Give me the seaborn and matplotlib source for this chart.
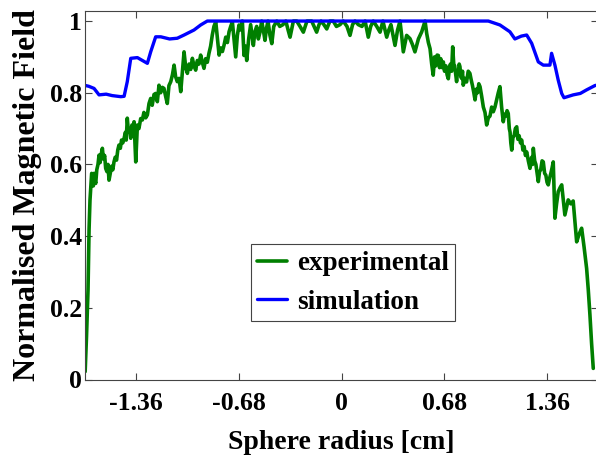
import matplotlib
matplotlib.use("Agg")
import matplotlib.pyplot as plt
import seaborn as sns

# experimental profile
exp_r = [-1.699, -1.690, -1.680, -1.673, -1.667, -1.662, -1.656, -1.651, -1.645, -1.640,
         -1.634, -1.629, -1.622, -1.614, -1.607, -1.600, -1.592, -1.585, -1.578, -1.570,
         -1.563, -1.555, -1.548, -1.541, -1.533, -1.524, -1.516, -1.508, -1.500, -1.491,
         -1.483, -1.475, -1.466, -1.458, -1.450, -1.441, -1.432, -1.427, -1.420, -1.412,
         -1.404, -1.397, -1.389, -1.382, -1.375, -1.364, -1.353, -1.343, -1.331, -1.320,
         -1.310, -1.298, -1.287, -1.276, -1.265, -1.255, -1.243, -1.232, -1.221, -1.210,
         -1.199, -1.188, -1.177, -1.166, -1.155, -1.144, -1.132, -1.121, -1.110, -1.100,
         -1.089, -1.077, -1.066, -1.055, -1.044, -1.033, -1.022, -1.011, -1.000, -0.989,
         -0.978, -0.967, -0.956, -0.945, -0.934, -0.923, -0.912, -0.901, -0.890, -0.879,
         -0.868, -0.857, -0.846, -0.834, -0.823, -0.812, -0.801, -0.790, -0.779, -0.768,
         -0.757, -0.746, -0.735, -0.724, -0.713, -0.702, -0.691, -0.680, -0.669, -0.658,
         -0.647, -0.638, -0.629, -0.616, -0.603, -0.594, -0.585, -0.575, -0.563, -0.552,
         -0.541, -0.530, -0.519, -0.508, -0.498, -0.488, -0.475, -0.463, -0.450, -0.430,
         -0.410, -0.389, -0.370, -0.355, -0.342, -0.320, -0.298, -0.276, -0.254, -0.230,
         -0.199, -0.183, -0.166, -0.150, -0.137, -0.118, -0.099, -0.078, -0.056, -0.035,
         -0.011, 0.010, 0.035, 0.055, 0.072, 0.088, 0.110, 0.134, 0.155, 0.176,
         0.192, 0.209, 0.232, 0.254, 0.273, 0.298, 0.312, 0.326, 0.340, 0.353,
         0.370, 0.386, 0.397, 0.408, 0.430, 0.452, 0.468, 0.485, 0.508, 0.530,
         0.552, 0.563, 0.574, 0.585, 0.596, 0.606, 0.615, 0.623, 0.632, 0.640,
         0.648, 0.656, 0.665, 0.673, 0.681, 0.690, 0.698, 0.706, 0.714, 0.720,
         0.728, 0.735, 0.742, 0.748, 0.755, 0.761, 0.767, 0.772, 0.778, 0.783,
         0.789, 0.794, 0.800, 0.805, 0.816, 0.827, 0.838, 0.849, 0.858, 0.866,
         0.875, 0.883, 0.892, 0.900, 0.908, 0.916, 0.927, 0.938, 0.949, 0.960,
         0.971, 0.982, 0.993, 1.004, 1.015, 1.026, 1.037, 1.048, 1.059, 1.070,
         1.079, 1.087, 1.095, 1.103, 1.110, 1.115, 1.120, 1.126, 1.134, 1.142,
         1.150, 1.159, 1.167, 1.175, 1.184, 1.192, 1.200, 1.208, 1.217, 1.225,
         1.236, 1.247, 1.258, 1.264, 1.269, 1.278, 1.286, 1.294, 1.302, 1.310,
         1.318, 1.327, 1.335, 1.344, 1.352, 1.360, 1.368, 1.376, 1.385, 1.393,
         1.401, 1.412, 1.423, 1.434, 1.446, 1.457, 1.468, 1.478, 1.489, 1.500,
         1.517, 1.533, 1.545, 1.556, 1.572, 1.589, 1.605, 1.622, 1.633, 1.644,
         1.655, 1.666]
exp_b = [0.022, 0.12, 0.25, 0.42, 0.50, 0.533, 0.575, 0.570, 0.540, 0.575,
         0.555, 0.547, 0.585, 0.600, 0.626, 0.605, 0.630, 0.645, 0.615, 0.625,
         0.589, 0.580, 0.600, 0.556, 0.575, 0.595, 0.585, 0.607, 0.620, 0.612,
         0.640, 0.654, 0.645, 0.668, 0.660, 0.673, 0.690, 0.668, 0.729, 0.690,
         0.700, 0.673, 0.710, 0.690, 0.719, 0.607, 0.710, 0.700, 0.728, 0.724,
         0.745, 0.730, 0.738, 0.770, 0.784, 0.765, 0.795, 0.798, 0.775, 0.821,
         0.800, 0.815, 0.812, 0.790, 0.770, 0.820, 0.831, 0.850, 0.877, 0.845,
         0.831, 0.840, 0.803, 0.860, 0.914, 0.870, 0.854, 0.880, 0.865, 0.896,
         0.875, 0.863, 0.890, 0.880, 0.905, 0.885, 0.868, 0.895, 0.885, 0.910,
         0.930, 0.961, 0.985, 0.998, 0.950, 0.905, 0.925, 0.915, 0.933, 0.955,
         0.940, 0.970, 0.985, 0.998, 0.950, 0.900, 0.960, 0.989, 0.975, 1.0,
         0.904, 0.930, 0.89, 0.950, 0.99, 0.960, 0.932, 0.970, 0.985, 0.950,
         0.969, 1.0, 0.975, 0.946, 0.980, 1.0, 0.960, 0.937, 0.985, 1.0,
         0.985, 0.99, 1.0, 0.975, 0.955, 1.0, 1.0, 0.985, 0.969, 1.0,
         1.0, 0.985, 0.969, 0.990, 1.0, 0.990, 0.978, 1.0, 1.0, 0.985,
         0.99, 1.0, 0.985, 0.960, 0.990, 1.0, 0.990, 0.985, 1.0, 0.955,
         0.985, 1.0, 0.985, 0.969, 1.0, 0.955, 0.975, 0.99, 0.960, 0.932,
         0.975, 1.0, 0.960, 0.914, 0.960, 0.951, 0.935, 0.914, 0.950, 0.97,
         1.0, 0.965, 0.940, 0.923, 0.880, 0.849, 0.900, 0.875, 0.905, 0.904,
         0.870, 0.895, 0.870, 0.886, 0.860, 0.875, 0.850, 0.839, 0.870, 0.880,
         0.860, 0.928, 0.880, 0.875, 0.850, 0.831, 0.860, 0.855, 0.880, 0.873,
         0.845, 0.840, 0.860, 0.821, 0.840, 0.830, 0.860, 0.854, 0.835, 0.820,
         0.800, 0.780, 0.810, 0.800, 0.825, 0.817, 0.790, 0.760, 0.745, 0.710,
         0.730, 0.735, 0.760, 0.747, 0.760, 0.780, 0.800, 0.817, 0.760, 0.719,
         0.740, 0.735, 0.750, 0.742, 0.700, 0.690, 0.660, 0.640, 0.675, 0.680,
         0.700, 0.705, 0.670, 0.680, 0.660, 0.668, 0.640, 0.650, 0.625, 0.635,
         0.610, 0.589, 0.620, 0.600, 0.645, 0.610, 0.600, 0.575, 0.552, 0.580,
         0.585, 0.610, 0.607, 0.575, 0.570, 0.550, 0.543, 0.560, 0.575, 0.590,
         0.607, 0.450, 0.490, 0.524, 0.535, 0.543, 0.500, 0.459, 0.480, 0.501,
         0.490, 0.498, 0.440, 0.384, 0.405, 0.422, 0.370, 0.310, 0.250, 0.180,
         0.100, 0.031]

# simulated profile
sim_r = [-1.706, -1.675, -1.640, -1.607, -1.560, -1.520, -1.463, -1.441, -1.420, -1.397,
         -1.353, -1.320, -1.287, -1.265, -1.232, -1.198, -1.140, -1.089, -1.044, -0.978,
         -0.934, -0.890, 0.971, 1.048, 1.114, 1.147, 1.190, 1.225, 1.258, 1.302,
         1.335, 1.379, 1.390, 1.412, 1.434, 1.457, 1.472, 1.533, 1.580, 1.622,
         1.677, 1.700]
sim_b = [0.821, 0.818, 0.812, 0.794, 0.796, 0.792, 0.789, 0.790, 0.831, 0.896,
         0.898, 0.890, 0.882, 0.914, 0.956, 0.956, 0.950, 0.952, 0.961, 0.975,
         0.989, 1.0, 1.0, 0.989, 0.970, 0.950, 0.958, 0.961, 0.938, 0.886,
         0.877, 0.877, 0.910, 0.877, 0.835, 0.798, 0.786, 0.794, 0.798, 0.808,
         0.820, 0.822]

xticks = [-1.36, -0.68, 0, 0.68, 1.36]
xtick_labels = ["-1.36", "-0.68", "0", "0.68", "1.36"]
yticks = [0, 0.2, 0.4, 0.6, 0.8, 1]
ytick_labels = ["0", "0.2", "0.4", "0.6", "0.8", "1"]

sns.set_theme(style="ticks")
plt.rcParams['font.family'] = ['Liberation Serif', 'DejaVu Serif']
plt.rcParams['font.weight'] = 'bold'
plt.rcParams['text.color'] = 'black'
plt.rcParams['axes.labelcolor'] = 'black'
plt.rcParams['xtick.labelcolor'] = 'black'
plt.rcParams['ytick.labelcolor'] = 'black'

fig = plt.figure(figsize=(5.96, 4.62), dpi=100)
ax = fig.add_axes([85 / 596, 82.5 / 462, 513.4 / 596, 368.5 / 462])

sns.lineplot(x=exp_r, y=exp_b, color='#007f00', linewidth=2.6, label='experimental', ax=ax, sort=False)
sns.lineplot(x=sim_r, y=sim_b, color='#0000ff', linewidth=2.4, label='simulation', ax=ax, sort=False)

ax.set_xlim(-1.70, 1.70)
ax.set_ylim(0, 1.028)
ax.set_xticks(xticks)
ax.set_xticklabels(xtick_labels)
ax.set_yticks(yticks)
ax.set_yticklabels(ytick_labels)
ax.tick_params(direction='in', length=5, width=0.8, color='#444444', top=True, right=True,
               labelsize=18.5)
ax.tick_params(axis='x', pad=9)
ax.tick_params(axis='y', pad=2)
for s in ax.spines.values():
    s.set_color('#444444')
    s.set_linewidth(0.8)

ax.set_xlabel('Sphere radius [cm]', fontsize=20, fontweight='bold', labelpad=11)
ax.set_ylabel('Normalised Magnetic Field', fontsize=23, fontweight='bold', labelpad=6)

leg = ax.legend(loc='center', bbox_to_anchor=(0.522, 0.262), frameon=True,
                fancybox=False, edgecolor='#444444', handlelength=1.1, borderpad=0.25,
                labelspacing=0.5, handletextpad=0.35, prop={'weight': 'bold', 'size': 19.5})
leg.get_frame().set_linewidth(0.8)
leg.get_frame().set_alpha(1)

fig.savefig('out.png', dpi=100)
